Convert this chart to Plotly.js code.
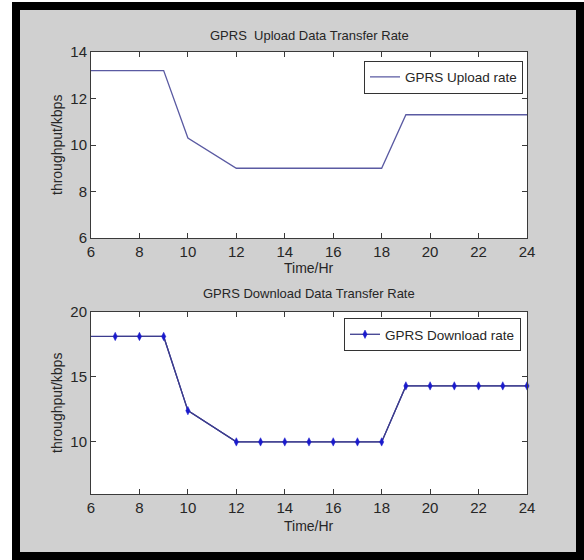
<!DOCTYPE html>
<html>
<head>
<meta charset="utf-8">
<script src="https://cdn.plot.ly/plotly-3.0.1.min.js"></script>
<style>
  html, body { margin: 0; padding: 0; background: #ffffff; }
  #frame { position: absolute; left: 12px; top: 2px; width: 556px; height: 542px;
           border: 8px solid #000000; background: #d0d0d0; }
  #chart { position: absolute; left: 0; top: 0; width: 584px; height: 560px; }
</style>
</head>
<body>
<div id="frame"></div>
<div id="chart"></div>
<script>
// ---- data ----
const hours = [6, 7, 8, 9, 10, 12, 13, 14, 15, 16, 17, 18, 19, 20, 21, 22, 23, 24];
const uploadRate = [13.2, 13.2, 13.2, 13.2, 10.3, 9.0, 9.0, 9.0, 9.0, 9.0, 9.0, 9.0, 11.3, 11.3, 11.3, 11.3, 11.3, 11.3];
const downloadRate = [18.1, 18.1, 18.1, 18.1, 12.4, 10.0, 10.0, 10.0, 10.0, 10.0, 10.0, 10.0, 14.3, 14.3, 14.3, 14.3, 14.3, 14.3];
const uploadTicks = [6, 8, 10, 12, 14];
const downloadTicks = [10, 15, 20];
const hourTicks = [6, 8, 10, 12, 14, 16, 18, 20, 22, 24];
const uploadTitle = 'GPRS  Upload Data Transfer Rate';
const downloadTitle = 'GPRS Download Data Transfer Rate';
const uploadName = 'GPRS Upload rate';
const downloadName = 'GPRS Download rate';
const xLabel = 'Time/Hr';
const yLabel = 'throughput/kbps';

// ---- layout helpers (pixel -> paper) ----
const W = 584, H = 560;
const M = { l: 91, r: 57, t: 52, b: 66 };
const PW = W - M.l - M.r, PH = H - M.t - M.b;
const px = v => (v - M.l) / PW;
const py = v => 1 - (v - M.t) / PH;

const FONT = '"Liberation Sans Narrow", "Arial Narrow", "Liberation Sans", Arial, sans-serif';
const TXT = '#262626';
const AX = '#3a3a3a';

const traces = [
  { x: hours, y: uploadRate, xaxis: 'x', yaxis: 'y', type: 'scatter', mode: 'lines',
    name: uploadName, line: { color: '#5a5aa2', width: 1.3 }, legend: 'legend' },
  { x: hours, y: downloadRate, xaxis: 'x2', yaxis: 'y2', type: 'scatter', mode: 'lines',
    showlegend: false, line: { color: '#3c3c8e', width: 1.3 }, legend: 'legend2' },
  { x: hours.slice(1), y: downloadRate.slice(1), xaxis: 'x2', yaxis: 'y2', type: 'scatter',
    mode: 'lines+markers', name: downloadName, cliponaxis: false,
    line: { color: '#3c3c8e', width: 1.3 },
    marker: { symbol: 'diamond-tall', size: 6, color: '#1a1acc', line: { color: '#1a1acc', width: 0.5 } },
    legend: 'legend2' }
];

function xax(anchor) {
  return {
    anchor: anchor, domain: [0, 1], range: [6, 24], tickmode: 'array', tickvals: hourTicks,
    ticks: 'inside', ticklen: 5, tickcolor: AX, showline: true, linecolor: AX, linewidth: 1,
    mirror: 'ticks', showgrid: false, zeroline: false,
    tickfont: { family: FONT, size: 15, color: TXT }
  };
}

const layout = {
  width: W, height: H,
  margin: M,
  paper_bgcolor: 'rgba(0,0,0,0)',
  plot_bgcolor: '#ffffff',
  showlegend: true,
  xaxis: xax('y'),
  yaxis: { domain: [py(238), 1], range: [6, 14], tickmode: 'array', tickvals: uploadTicks,
    ticks: 'inside', ticklen: 5, tickcolor: AX, showline: true, linecolor: AX, linewidth: 1,
    mirror: 'ticks', showgrid: false, zeroline: false,
    tickfont: { family: FONT, size: 15, color: TXT } },
  xaxis2: xax('y2'),
  yaxis2: { domain: [0, py(311.7)], range: [6, 20], tickmode: 'array', tickvals: downloadTicks,
    ticks: 'inside', ticklen: 5, tickcolor: AX, showline: true, linecolor: AX, linewidth: 1,
    mirror: 'ticks', showgrid: false, zeroline: false,
    tickfont: { family: FONT, size: 15, color: TXT } },
  legend: { x: px(523), y: py(60.5), xanchor: 'right', yanchor: 'top',
    bgcolor: '#ffffff', bordercolor: '#333333', borderwidth: 1,
    font: { family: FONT, size: 13.5, color: TXT } },
  legend2: { x: px(521), y: py(318), xanchor: 'right', yanchor: 'top',
    bgcolor: '#ffffff', bordercolor: '#333333', borderwidth: 1,
    font: { family: FONT, size: 13.5, color: TXT } },
  annotations: [
    { text: uploadTitle, xref: 'paper', yref: 'paper', x: px(309), y: py(36), showarrow: false,
      xanchor: 'center', yanchor: 'middle', font: { family: FONT, size: 13, color: TXT } },
    { text: downloadTitle, xref: 'paper', yref: 'paper', x: px(309), y: py(293), showarrow: false,
      xanchor: 'center', yanchor: 'middle', font: { family: FONT, size: 13, color: TXT } },
    { text: xLabel, xref: 'paper', yref: 'paper', x: px(309), y: py(268), showarrow: false,
      xanchor: 'center', yanchor: 'middle', font: { family: FONT, size: 14, color: TXT } },
    { text: xLabel, xref: 'paper', yref: 'paper', x: px(309), y: py(526), showarrow: false,
      xanchor: 'center', yanchor: 'middle', font: { family: FONT, size: 14, color: TXT } },
    { text: yLabel, xref: 'paper', yref: 'paper', x: px(57), y: py(145), showarrow: false,
      textangle: -90, xanchor: 'center', yanchor: 'middle', font: { family: FONT, size: 14, color: TXT } },
    { text: yLabel, xref: 'paper', yref: 'paper', x: px(57), y: py(403), showarrow: false,
      textangle: -90, xanchor: 'center', yanchor: 'middle', font: { family: FONT, size: 14, color: TXT } }
  ]
};

Plotly.newPlot('chart', traces, layout, { displayModeBar: false, staticPlot: true });
</script>
</body>
</html>
